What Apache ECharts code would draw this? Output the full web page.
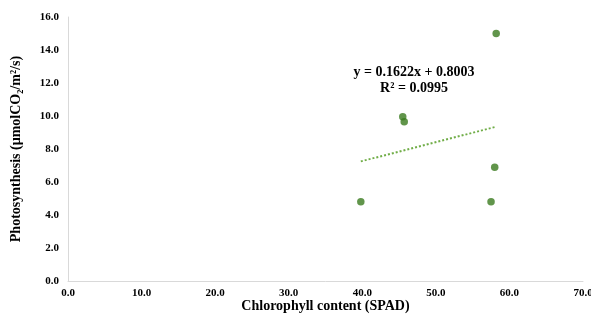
<!DOCTYPE html>
<html>
<head>
<meta charset="utf-8">
<script src="https://cdn.jsdelivr.net/npm/echarts@6/dist/echarts.min.js"></script>
<style>
  html, body { margin: 0; padding: 0; background: #fff; }
  #chart { width: 591px; height: 322px; }
</style>
</head>
<body>
<div id="chart"></div>
<script>
// Scatter points: [SPAD, photosynthesis]
const points = [
  [39.8, 4.8],
  [45.5, 9.95],
  [45.7, 9.65],
  [57.5, 4.8],
  [58.0, 6.9],
  [58.2, 15.0]
];

// Trend line as drawn (endpoints)
const trendPoints = [
  [39.8, 7.25],
  [58.2, 9.35]
];

const equationLines = ['y = 0.1622x + 0.8003', 'R² = 0.0995'];

const serif = '"Liberation Serif", "Times New Roman", serif';

const chart = echarts.init(document.getElementById('chart'));

chart.setOption({
  backgroundColor: '#fff',
  animation: false,
  grid: { left: 68, right: 8, top: 17, bottom: 41, outerBoundsMode: 'none' },
  xAxis: {
    type: 'value',
    min: 0,
    max: 70,
    interval: 10,
    name: 'Chlorophyll content (SPAD)',
    nameLocation: 'middle',
    nameGap: 18,
    nameMoveOverlap: false,
    nameTextStyle: { fontFamily: serif, fontWeight: 'bold', fontSize: 14, color: '#000' },
    axisLine: { lineStyle: { color: '#d9d9d9', width: 1 } },
    axisTick: { show: false },
    splitLine: { show: false },
    axisLabel: {
      fontFamily: serif, fontWeight: 'bold', fontSize: 11, color: '#000', margin: 7,
      formatter: v => v.toFixed(1)
    }
  },
  yAxis: {
    type: 'value',
    min: 0,
    max: 16,
    interval: 2,
    name: 'Photosynthesis (µmolCO₂/m²/s)',
    nameLocation: 'middle',
    nameGap: 45,
    nameMoveOverlap: false,
    nameTextStyle: { fontFamily: serif, fontWeight: 'bold', fontSize: 14, color: '#000' },
    axisLine: { show: true, lineStyle: { color: '#d9d9d9', width: 1 } },
    axisTick: { show: false },
    splitLine: { show: false },
    axisLabel: {
      fontFamily: serif, fontWeight: 'bold', fontSize: 11, color: '#000', margin: 9,
      formatter: v => v.toFixed(1)
    }
  },
  graphic: [{
    type: 'text',
    x: 414,
    y: 64,
    style: {
      text: equationLines.join('\n'),
      font: 'bold 14px ' + serif,
      fill: '#000',
      textAlign: 'center',
      lineHeight: 16
    }
  }],
  series: [
    {
      type: 'line',
      data: trendPoints,
      symbol: 'none',
      lineStyle: { color: '#70ad47', width: 2, type: [2, 2] },
      z: 1
    },
    {
      type: 'scatter',
      data: points,
      symbolSize: 7.5,
      itemStyle: { color: '#3a7a1e' },
      z: 2
    }
  ]
});
</script>
</body>
</html>
